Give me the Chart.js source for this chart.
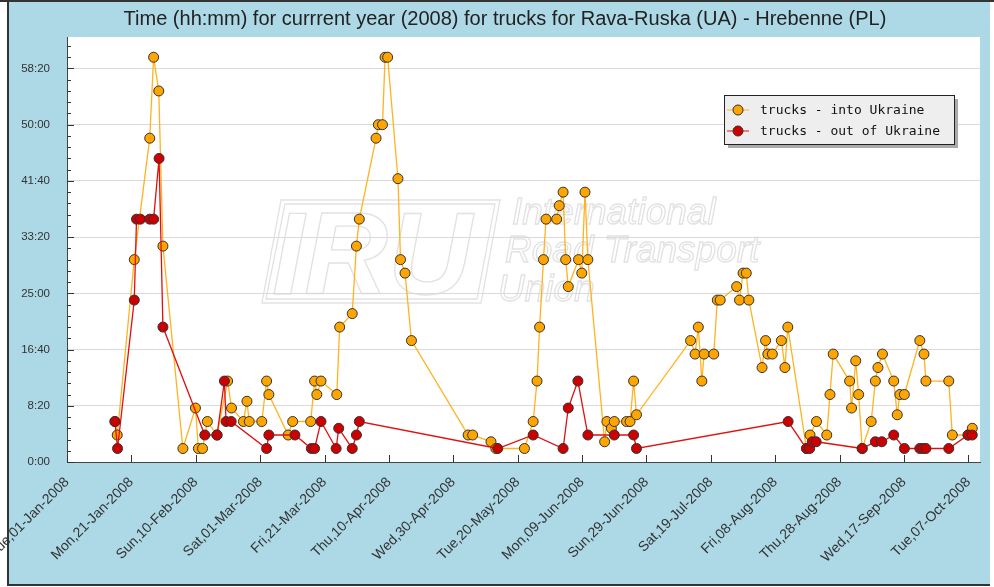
<!DOCTYPE html>
<html lang="en">
<head>
<meta charset="UTF-8">
<title>Rava-Ruska - Hrebenne waiting time 2008</title>
<script src="https://cdn.jsdelivr.net/npm/chart.js@4.4.1/dist/chart.umd.min.js"></script>
<style>
    html, body { margin: 0; padding: 0; background: #fff; }
    #chart { display: block; }
</style>
</head>
<body>
<canvas id="chart" width="994" height="587"></canvas>
<script>
    // x = days counted from 01-Jan-2008, y = waiting time in hours
    var intoDays = [14.9, 15.6, 20.9, 25.7, 26.9, 28.5, 29.8, 36.0, 39.9, 40.8, 42.1, 43.6, 46.6, 49.9, 51.1,
        54.8, 55.9, 56.6, 60.5, 62.0, 62.7, 68.7, 70.1, 75.7, 76.9, 77.6, 78.9, 83.8, 84.7, 88.6,
        89.9, 90.8, 96.0, 96.7, 98.0, 98.8, 99.6, 102.8, 103.6, 105.0, 107.0, 124.6, 126.0, 131.7, 133.2,
        142.1, 144.8, 146.0, 146.8, 148.0, 148.8, 152.1, 152.9, 154.1, 154.9, 155.7, 158.9, 159.9, 160.9,
        161.8, 167.0, 167.7, 169.1, 170.0, 173.8, 174.9, 176.0, 176.9, 193.7, 195.1, 196.1, 197.2, 197.9,
        200.9, 202.0, 202.9, 208.0, 208.9, 210.0, 211.0, 211.8, 215.9, 217.0, 217.7, 219.1, 221.9, 223.0,
        223.9, 229.7, 230.8, 232.8, 236.0, 237.0, 238.0, 243.1, 243.7, 245.0, 245.9, 247.0, 249.8, 251.1,
        251.9, 253.3, 256.8, 257.9, 258.7, 260.1, 264.9, 266.2, 266.8, 273.9, 275.0, 279.9, 281.2];
    var intoHours = [6, 4, 30, 48, 60, 55, 32, 2, 8, 2, 2, 6, 4, 12, 8,
        6, 9, 6, 6, 12, 10, 4, 6, 6, 12, 10, 12, 10, 20, 22,
        32, 36, 48, 50, 50, 60, 60, 42, 30, 28, 18, 4, 4, 3, 2,
        2, 6, 12, 20, 30, 36, 36, 38, 40, 30, 26, 30, 28, 40,
        30, 3, 6, 5, 6, 6, 6, 12, 7, 18, 16, 20, 12, 16,
        16, 24, 24, 26, 24, 28, 28, 24, 14, 18, 16, 16, 18, 14,
        20, 2, 4, 6, 4, 10, 16, 12, 8, 15, 10, 2, 6, 12,
        14, 16, 12, 7, 10, 10, 18, 16, 12, 12, 4, 4, 5];

    var outDays = [14.9, 15.7, 20.9, 21.6, 22.8, 25.7, 26.9, 28.6, 29.8, 42.8, 46.6, 48.9, 49.4, 51.0,
        62.0, 62.7, 70.8, 75.9, 76.9, 78.9, 83.6, 84.4, 88.6, 89.9, 90.8, 133.8, 144.8, 154.1, 155.7,
        158.7, 161.8, 170.0, 176.0, 176.9, 224.0, 229.7, 230.7, 231.5, 232.7, 247.0, 251.1, 253.1,
        256.8, 260.1, 264.9, 265.9, 266.8, 273.9, 279.9, 281.2];
    var outHours = [6, 2, 24, 36, 36, 36, 36, 45, 20, 4, 4, 12, 6, 6,
        2, 4, 4, 2, 2, 6, 2, 5, 2, 4, 6, 2, 4, 2, 8,
        12, 4, 4, 4, 2, 6, 2, 2, 3, 3, 2, 3, 3,
        4, 2, 2, 2, 2, 2, 4, 4];

    var seriesNames = ['trucks - into Ukraine', 'trucks - out of Ukraine'];

    var xTickValues = [0, 20, 40, 60, 80, 100, 120, 140, 160, 180, 200, 220, 240, 260, 280];
    var xTickLabels = ['Tue,01-Jan-2008', 'Mon,21-Jan-2008', 'Sun,10-Feb-2008', 'Sat,01-Mar-2008',
        'Fri,21-Mar-2008', 'Thu,10-Apr-2008', 'Wed,30-Apr-2008', 'Tue,20-May-2008', 'Mon,09-Jun-2008',
        'Sun,29-Jun-2008', 'Sat,19-Jul-2008', 'Fri,08-Aug-2008', 'Thu,28-Aug-2008', 'Wed,17-Sep-2008',
        'Tue,07-Oct-2008'];
    // minutes
    var yTickValues = [0, 500, 1000, 1500, 2000, 2500, 3000, 3500];
    var yTickLabels = ['0:00', '8:20', '16:40', '25:00', '33:20', '41:40', '50:00', '58:20'];

    var titleText = 'Time (hh:mm) for currrent year (2008) for trucks for Rava-Ruska (UA) - Hrebenne (PL)';

    function toPoints(days, hours) {
        return days.map(function (d, i) { return {x: d, y: hours[i] * 60}; });
    }

    // background panel, watermark, title
    var panelPlugin = {
        id: 'panel',
        beforeDraw: function (chart) {
            var ctx = chart.ctx, a = chart.chartArea;
            ctx.save();
            ctx.fillStyle = '#fff';
            ctx.fillRect(0, 0, chart.width, chart.height);
            ctx.fillStyle = '#add8e6';
            ctx.fillRect(7, 1, 983, 583);
            ctx.strokeStyle = '#333';
            ctx.lineWidth = 2;
            ctx.beginPath();
            ctx.moveTo(0, 1); ctx.lineTo(994, 1);
            ctx.moveTo(8, 1); ctx.lineTo(8, 585);
            ctx.moveTo(7, 585); ctx.lineTo(990, 585);
            ctx.stroke();
            ctx.fillStyle = '#fff';
            ctx.fillRect(a.left, a.top, a.right - a.left, a.bottom - a.top);

            // IRU watermark
            ctx.strokeStyle = '#e2e2e2';
            ctx.lineWidth = 1.3;
            ctx.beginPath();
            ctx.moveTo(281, 200); ctx.lineTo(500, 200); ctx.lineTo(481, 303); ctx.lineTo(262, 303); ctx.closePath();
            ctx.moveTo(285, 204); ctx.lineTo(495, 204); ctx.lineTo(477, 299); ctx.lineTo(266, 299); ctx.closePath();
            ctx.stroke();
            ctx.font = 'italic bold 116px "Liberation Sans", Arial, sans-serif';
            ctx.textBaseline = 'alphabetic';
            ctx.textAlign = 'left';
            ctx.strokeText('IRU', 272, 294);
            ctx.font = 'italic 37px "Liberation Sans", Arial, sans-serif';
            ctx.strokeText('International', 512, 224);
            ctx.strokeText('Road Transport', 505, 262);
            ctx.strokeText('Union', 498, 301);

            ctx.fillStyle = '#222';
            ctx.font = '20px "Liberation Sans", Arial, sans-serif';
            ctx.textAlign = 'center';
            ctx.textBaseline = 'middle';
            ctx.fillText(titleText, 505, 19);
            ctx.restore();
        },
        beforeDatasetsDraw: function (chart) {
            // tick marks pointing into the plot
            var ctx = chart.ctx, a = chart.chartArea;
            var xs = chart.scales.x, ys = chart.scales.y;
            ctx.save();
            ctx.strokeStyle = '#333';
            ctx.lineWidth = 1;
            ctx.beginPath();
            xTickValues.forEach(function (v) {
                var px = Math.round(xs.getPixelForValue(v)) + 0.5;
                ctx.moveTo(px, a.bottom); ctx.lineTo(px, a.bottom - 7);
            });
            for (var m = 0; m <= ys.max; m += 100) {
                var py = Math.round(ys.getPixelForValue(m)) + 0.5;
                var len = (m % 500 === 0) ? 7 : 4;
                ctx.moveTo(a.left, py); ctx.lineTo(a.left + len, py);
            }
            ctx.stroke();
            ctx.restore();
        },
        afterDraw: function (chart) {
            // legend box inside the plot
            var ctx = chart.ctx;
            var lx = 724, ly = 95, lw = 230, lh = 49;
            ctx.save();
            ctx.fillStyle = '#aaa';
            ctx.fillRect(lx + 4, ly + 4, lw, lh);
            ctx.fillStyle = '#eee';
            ctx.fillRect(lx, ly, lw, lh);
            ctx.strokeStyle = '#222';
            ctx.lineWidth = 1;
            ctx.strokeRect(lx + 0.5, ly + 0.5, lw, lh);
            ctx.font = '13px "DejaVu Sans Mono", monospace';
            ctx.textAlign = 'left';
            ctx.textBaseline = 'middle';
            [0, 1].forEach(function (i) {
                var ds = chart.data.datasets[i];
                var ry = ly + 15 + i * 21;
                ctx.strokeStyle = ds.borderColor;
                ctx.beginPath();
                ctx.moveTo(lx + 3, ry); ctx.lineTo(lx + 25, ry);
                ctx.stroke();
                ctx.fillStyle = ds.pointBackgroundColor;
                ctx.strokeStyle = '#333';
                ctx.beginPath();
                ctx.arc(lx + 14, ry, 5, 0, Math.PI * 2);
                ctx.fill();
                ctx.stroke();
                ctx.fillStyle = '#111';
                ctx.fillText(ds.label, lx + 36, ry + 1);
            });
            ctx.restore();
        }
    };

    var ctx = document.getElementById('chart').getContext('2d');
    var chart = new Chart(ctx, {
        type: 'line',
        data: {
            datasets: [{
                label: seriesNames[0],
                data: toPoints(intoDays, intoHours),
                borderColor: '#ffb31f',
                backgroundColor: '#ffa500',
                pointBackgroundColor: '#ffa500',
                pointBorderColor: '#333',
                pointBorderWidth: 1,
                pointRadius: 5,
                borderWidth: 1.3,
                tension: 0,
                clip: 8,
                order: 1
            }, {
                label: seriesNames[1],
                data: toPoints(outDays, outHours),
                borderColor: '#e01010',
                backgroundColor: '#cc0000',
                pointBackgroundColor: '#cc0000',
                pointBorderColor: '#333',
                pointBorderWidth: 1,
                pointRadius: 5,
                borderWidth: 1.3,
                tension: 0,
                clip: 8,
                order: 0
            }]
        },
        options: {
            responsive: false,
            animation: false,
            devicePixelRatio: 1,
            layout: { padding: { left: 0, right: 14, top: 37, bottom: 0 } },
            plugins: {
                legend: { display: false },
                title: { display: false },
                tooltip: { enabled: false }
            },
            scales: {
                x: {
                    type: 'linear',
                    min: 0,
                    max: 283.6,
                    afterBuildTicks: function (scale) {
                        scale.ticks = xTickValues.map(function (v) { return {value: v}; });
                    },
                    afterFit: function (scale) {
                        scale.height = 125;
                        scale.paddingLeft = 0;
                        scale.paddingRight = 0;
                    },
                    ticks: {
                        autoSkip: false,
                        minRotation: 45,
                        maxRotation: 45,
                        padding: 12,
                        color: '#333',
                        font: { family: '"Liberation Sans", Arial, sans-serif', size: 14 },
                        callback: function (v, i) { return xTickLabels[i]; }
                    },
                    grid: { display: false, drawTicks: false },
                    border: { color: '#444', width: 1 }
                },
                y: {
                    min: 0,
                    max: 3780,
                    afterBuildTicks: function (scale) {
                        scale.ticks = yTickValues.map(function (v) { return {value: v}; });
                    },
                    afterFit: function (scale) {
                        scale.width = 67;
                        scale.paddingTop = 0;
                        scale.paddingBottom = 0;
                    },
                    ticks: {
                        padding: 17,
                        color: '#333',
                        font: { family: '"Liberation Sans", Arial, sans-serif', size: 11.5 },
                        callback: function (v, i) { return yTickLabels[i]; }
                    },
                    grid: { color: '#dadada', drawTicks: false },
                    border: { color: '#444', width: 1 }
                }
            }
        },
        plugins: [panelPlugin]
    });
</script>
</body>
</html>
